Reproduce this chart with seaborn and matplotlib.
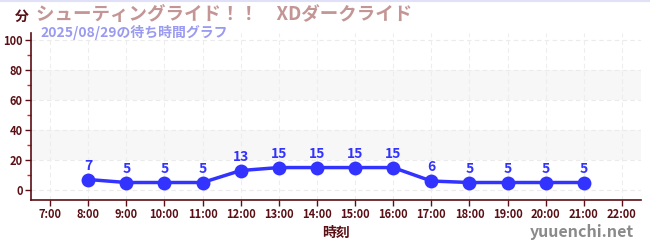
import matplotlib
matplotlib.use("Agg")
import matplotlib.pyplot as plt
from matplotlib.ticker import MultipleLocator
import seaborn as sns
import pandas as pd

hours = [8, 9, 10, 11, 12, 13, 14, 15, 16, 17, 18, 19, 20, 21]
waits = [7, 5, 5, 5, 13, 15, 15, 15, 15, 6, 5, 5, 5, 5]
tick_hours = list(range(7, 23))
tick_labels = [f"{h}:00" for h in tick_hours]
title = "シューティングライド！！　XDダークライド"
subtitle = "2025/08/29の待ち時間グラフ"

sns.set_theme(style="white")
plt.rcParams["font.family"] = ["Noto Sans CJK JP", "DejaVu Sans"]

df = pd.DataFrame({"hour": hours, "wait": waits})

fig = plt.figure(figsize=(6.5, 2.5), dpi=100)
ax = fig.add_axes([31 / 650, 50 / 250, 610 / 650, 167 / 250])

dark = "#5a0f14"
line_c = "#3333ff"

ax.set_xlim(6.5, 22.5)
ax.set_ylim(-6.7, 105)

for lo, hi in [(20, 40), (60, 80)]:
    ax.axhspan(lo, hi, color="#f7f7f7", zorder=0, lw=0)
for y in [0, 20, 40, 60, 80, 100]:
    ax.axhline(y, color="#ebebeb", lw=0.8, ls=(0, (4, 3)), zorder=0.5)
for h in tick_hours:
    ax.axvline(h, color="#ededed", lw=0.8, ls=(0, (4, 3)), zorder=0.5)

sns.lineplot(data=df, x="hour", y="wait", ax=ax, color=line_c, lw=2.5,
             marker="o", markersize=10, markeredgewidth=0, zorder=3)

for h, w in zip(hours, waits):
    ax.annotate(str(w), (h, w), xytext=(0, 5), textcoords="offset points",
                ha="center", va="bottom", color=line_c, fontsize=10,
                fontweight="bold")

ax.set_xticks(tick_hours)
ax.set_xticklabels(tick_labels)
ax.set_yticks([0, 20, 40, 60, 80, 100])
ax.yaxis.set_minor_locator(MultipleLocator(10))
ax.tick_params(axis="both", which="major", colors=dark, labelsize=8,
               length=4, width=1, direction="out", pad=2)
ax.tick_params(axis="y", which="minor", colors="#dd2222", length=3,
               width=1, left=True)
ax.tick_params(axis="x", bottom=True)
ax.tick_params(axis="y", left=True)
for lab in ax.get_xticklabels() + ax.get_yticklabels():
    lab.set_fontweight("bold")
    lab.set_color(dark)

for side in ["top", "right"]:
    ax.spines[side].set_visible(False)
for side in ["left", "bottom"]:
    ax.spines[side].set_color(dark)
    ax.spines[side].set_linewidth(1.2)

ax.set_xlabel("時刻", color=dark, fontsize=10, fontweight="bold", labelpad=3)
ax.set_ylabel("")

fig.text(15 / 650, 1 - 17 / 250, "分", color=dark, fontsize=10,
         fontweight="bold", ha="left", va="center")
fig.text(36 / 650, 1 - 14 / 250, title, color="#c49595", fontsize=13.3,
         fontweight="bold", ha="left", va="center")
fig.text(40 / 650, 1 - 32 / 250, subtitle, color="#9a9af0", fontsize=10,
         fontweight="bold", ha="left", va="center")
fig.text(634 / 650, 1 - 232 / 250, "yuuenchi.net", color="#8a8a8a",
         fontsize=11.5, fontweight="bold", ha="right", va="center")

fig.add_artist(plt.Line2D([0, 1], [0.998, 0.998], transform=fig.transFigure,
                          color="#e0e0f8", lw=1.5))

fig.savefig("out.png", dpi=100)
